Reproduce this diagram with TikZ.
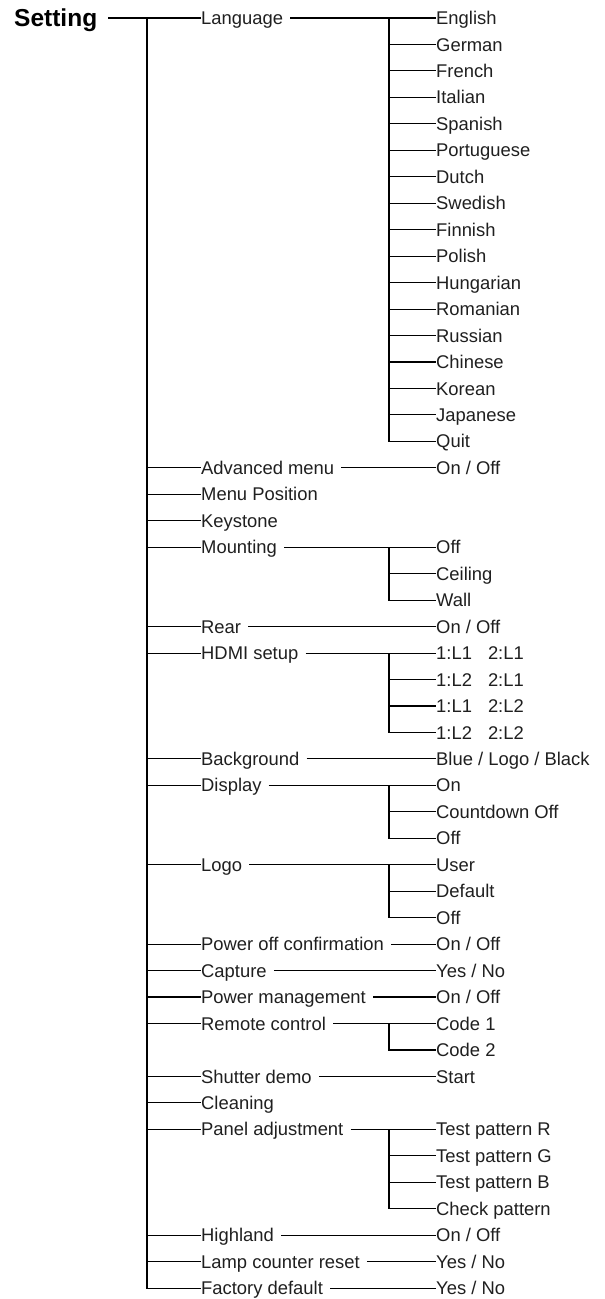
\documentclass[tikz,border=0pt]{standalone}
\usepackage{fontspec}
\setmainfont{Liberation Sans}
\usepackage{tikz}
\usetikzlibrary{calc}

\begin{document}
\begin{tikzpicture}[x=1pt, y=-26.46pt]
    \tikzstyle{head} = [anchor=west, inner sep=0pt, font=\fontsize{24.5}{28}\selectfont\bfseries, text height=17.5pt, text depth=0pt]
    \tikzstyle{item} = [anchor=west, inner sep=0pt, font=\fontsize{18.4}{22}\selectfont, text height=13.2pt, text depth=0pt, text=black!88]
    \tikzstyle{link} = [draw, line width=1.1pt]
    \tikzstyle{gap} = [shorten <=7pt]

    \useasboundingbox (0pt,18pt) rectangle (605pt,-1281pt);

    % menu title and trunk
    \node [head] (setting) at (14,0) {Setting};
    \coordinate (trunk) at (147,0);

    % first level
    \node [item] (lang) at (201,0) {Language};
    \node [item] (advmenu) at (201,17) {Advanced menu};
    \node [item] (menupos) at (201,18) {Menu Position};
    \node [item] (keystone) at (201,19) {Keystone};
    \node [item] (mounting) at (201,20) {Mounting};
    \node [item] (rear) at (201,23) {Rear};
    \node [item] (hdmi) at (201,24) {HDMI setup};
    \node [item] (backgr) at (201,28) {Background};
    \node [item] (display) at (201,29) {Display};
    \node [item] (logo) at (201,32) {Logo};
    \node [item] (poweroff) at (201,35) {Power off confirmation};
    \node [item] (capture) at (201,36) {Capture};
    \node [item] (powermgmt) at (201,37) {Power management};
    \node [item] (remote) at (201,38) {Remote control};
    \node [item] (shutter) at (201,40) {Shutter demo};
    \node [item] (cleaning) at (201,41) {Cleaning};
    \node [item] (panel) at (201,42) {Panel adjustment};
    \node [item] (highland) at (201,46) {Highland};
    \node [item] (lampreset) at (201,47) {Lamp counter reset};
    \node [item] (factory) at (201,48) {Factory default};

    % second level
    \node [item] (langEn) at (436,0) {English};
    \node [item] (langDe) at (436,1) {German};
    \node [item] (langFr) at (436,2) {French};
    \node [item] (langIt) at (436,3) {Italian};
    \node [item] (langEs) at (436,4) {Spanish};
    \node [item] (langPt) at (436,5) {Portuguese};
    \node [item] (langNl) at (436,6) {Dutch};
    \node [item] (langSv) at (436,7) {Swedish};
    \node [item] (langFi) at (436,8) {Finnish};
    \node [item] (langPl) at (436,9) {Polish};
    \node [item] (langHu) at (436,10) {Hungarian};
    \node [item] (langRo) at (436,11) {Romanian};
    \node [item] (langRu) at (436,12) {Russian};
    \node [item] (langZh) at (436,13) {Chinese};
    \node [item] (langKo) at (436,14) {Korean};
    \node [item] (langJa) at (436,15) {Japanese};
    \node [item] (langQuit) at (436,16) {Quit};
    \node [item] (advOnOff) at (436,17) {On / Off};
    \node [item] (mountOff) at (436,20) {Off};
    \node [item] (mountCeil) at (436,21) {Ceiling};
    \node [item] (mountWall) at (436,22) {Wall};
    \node [item] (rearOnOff) at (436,23) {On / Off};
    \node [item] (hdmiA) at (436,24) {1:L1\hspace{16pt}2:L1};
    \node [item] (hdmiB) at (436,25) {1:L2\hspace{16pt}2:L1};
    \node [item] (hdmiC) at (436,26) {1:L1\hspace{16pt}2:L2};
    \node [item] (hdmiD) at (436,27) {1:L2\hspace{16pt}2:L2};
    \node [item] (backgrSel) at (436,28) {Blue / Logo / Black};
    \node [item] (dispOn) at (436,29) {On};
    \node [item] (dispCount) at (436,30) {Countdown Off};
    \node [item] (dispOff) at (436,31) {Off};
    \node [item] (logoUser) at (436,32) {User};
    \node [item] (logoDef) at (436,33) {Default};
    \node [item] (logoOff) at (436,34) {Off};
    \node [item] (poweroffSel) at (436,35) {On / Off};
    \node [item] (captureSel) at (436,36) {Yes / No};
    \node [item] (powermgmtSel) at (436,37) {On / Off};
    \node [item] (remoteA) at (436,38) {Code 1};
    \node [item] (remoteB) at (436,39) {Code 2};
    \node [item] (shutterSel) at (436,40) {Start};
    \node [item] (panelR) at (436,42) {Test pattern R};
    \node [item] (panelG) at (436,43) {Test pattern G};
    \node [item] (panelB) at (436,44) {Test pattern B};
    \node [item] (panelChk) at (436,45) {Check pattern};
    \node [item] (highlandSel) at (436,46) {On / Off};
    \node [item] (lampSel) at (436,47) {Yes / No};
    \node [item] (factorySel) at (436,48) {Yes / No};

    % junctions of the second level
    \coordinate (langJ) at (389,0);
    \coordinate (mountJ) at (389,20);
    \coordinate (hdmiJ) at (389,24);
    \coordinate (dispJ) at (389,29);
    \coordinate (logoJ) at (389,32);
    \coordinate (remoteJ) at (389,38);
    \coordinate (panelJ) at (389,42);

    % trunk
    \path [link, shorten <=11pt] (setting.east) -- (lang.west);
    \path [link] (trunk) |- (factory.west);
    \path [link] (trunk |- advmenu.west) -- (advmenu.west);
    \path [link] (trunk |- menupos.west) -- (menupos.west);
    \path [link] (trunk |- keystone.west) -- (keystone.west);
    \path [link] (trunk |- mounting.west) -- (mounting.west);
    \path [link] (trunk |- rear.west) -- (rear.west);
    \path [link] (trunk |- hdmi.west) -- (hdmi.west);
    \path [link] (trunk |- backgr.west) -- (backgr.west);
    \path [link] (trunk |- display.west) -- (display.west);
    \path [link] (trunk |- logo.west) -- (logo.west);
    \path [link] (trunk |- poweroff.west) -- (poweroff.west);
    \path [link] (trunk |- capture.west) -- (capture.west);
    \path [link] (trunk |- powermgmt.west) -- (powermgmt.west);
    \path [link] (trunk |- remote.west) -- (remote.west);
    \path [link] (trunk |- shutter.west) -- (shutter.west);
    \path [link] (trunk |- cleaning.west) -- (cleaning.west);
    \path [link] (trunk |- panel.west) -- (panel.west);
    \path [link] (trunk |- highland.west) -- (highland.west);
    \path [link] (trunk |- lampreset.west) -- (lampreset.west);

    % Language
    \path [link, gap] (lang.east) -- (langEn.west);
    \path [link] (langJ) |- (langQuit.west);
    \path [link] (langJ |- langDe.west) -- (langDe.west);
    \path [link] (langJ |- langFr.west) -- (langFr.west);
    \path [link] (langJ |- langIt.west) -- (langIt.west);
    \path [link] (langJ |- langEs.west) -- (langEs.west);
    \path [link] (langJ |- langPt.west) -- (langPt.west);
    \path [link] (langJ |- langNl.west) -- (langNl.west);
    \path [link] (langJ |- langSv.west) -- (langSv.west);
    \path [link] (langJ |- langFi.west) -- (langFi.west);
    \path [link] (langJ |- langPl.west) -- (langPl.west);
    \path [link] (langJ |- langHu.west) -- (langHu.west);
    \path [link] (langJ |- langRo.west) -- (langRo.west);
    \path [link] (langJ |- langRu.west) -- (langRu.west);
    \path [link] (langJ |- langZh.west) -- (langZh.west);
    \path [link] (langJ |- langKo.west) -- (langKo.west);
    \path [link] (langJ |- langJa.west) -- (langJa.west);

    % single choices
    \path [link, gap] (advmenu.east) -- (advOnOff.west);
    \path [link, gap] (rear.east) -- (rearOnOff.west);
    \path [link, gap] (backgr.east) -- (backgrSel.west);
    \path [link, gap] (poweroff.east) -- (poweroffSel.west);
    \path [link, gap] (capture.east) -- (captureSel.west);
    \path [link, gap] (powermgmt.east) -- (powermgmtSel.west);
    \path [link, gap] (shutter.east) -- (shutterSel.west);
    \path [link, gap] (highland.east) -- (highlandSel.west);
    \path [link, gap] (lampreset.east) -- (lampSel.west);
    \path [link, gap] (factory.east) -- (factorySel.west);

    % Mounting
    \path [link, gap] (mounting.east) -- (mountOff.west);
    \path [link] (mountJ) |- (mountWall.west);
    \path [link] (mountJ |- mountCeil.west) -- (mountCeil.west);

    % HDMI setup
    \path [link, gap] (hdmi.east) -- (hdmiA.west);
    \path [link] (hdmiJ) |- (hdmiD.west);
    \path [link] (hdmiJ |- hdmiB.west) -- (hdmiB.west);
    \path [link] (hdmiJ |- hdmiC.west) -- (hdmiC.west);

    % Display
    \path [link, gap] (display.east) -- (dispOn.west);
    \path [link] (dispJ) |- (dispOff.west);
    \path [link] (dispJ |- dispCount.west) -- (dispCount.west);

    % Logo
    \path [link, gap] (logo.east) -- (logoUser.west);
    \path [link] (logoJ) |- (logoOff.west);
    \path [link] (logoJ |- logoDef.west) -- (logoDef.west);

    % Remote control
    \path [link, gap] (remote.east) -- (remoteA.west);
    \path [link] (remoteJ) |- (remoteB.west);

    % Panel adjustment
    \path [link, gap] (panel.east) -- (panelR.west);
    \path [link] (panelJ) |- (panelChk.west);
    \path [link] (panelJ |- panelG.west) -- (panelG.west);
    \path [link] (panelJ |- panelB.west) -- (panelB.west);
\end{tikzpicture}
\end{document}
